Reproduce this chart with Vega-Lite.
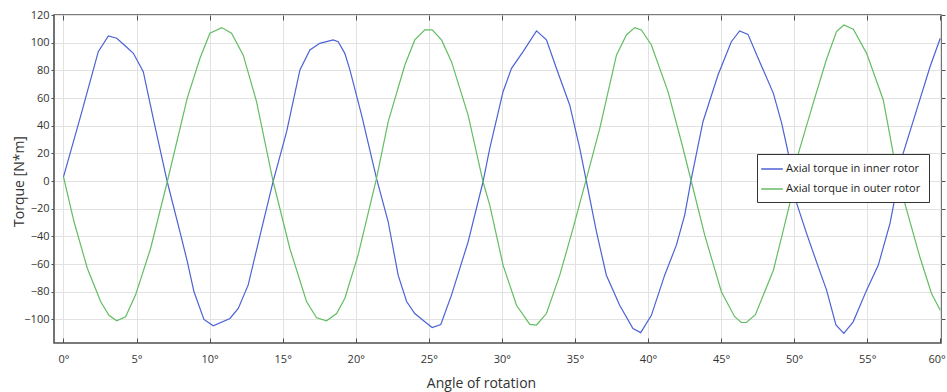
{
  "$schema": "https://vega.github.io/schema/vega-lite/v6.json",
  "width": 887,
  "height": 328,
  "autosize": {"type": "none"},
  "padding": {"left": 54, "top": 15, "right": 6, "bottom": 49},
  "background": "white",
  "config": {
    "font": "Open Sans",
    "view": {"stroke": "#505050", "strokeWidth": 1.6},
    "axis": {"labelFont": "Open Sans", "titleFont": "Open Sans", "labelColor": "#333", "titleColor": "#333", "titleFontWeight": "normal", "labelFontSize": 11, "tickColor": "#505050"}
  },
  "data": {"values": [
    {"angle": 0, "torque": 3, "series": "Axial torque in inner rotor"},
    {"angle": 1.2, "torque": 48, "series": "Axial torque in inner rotor"},
    {"angle": 2.38, "torque": 93.5, "series": "Axial torque in inner rotor"},
    {"angle": 3.07, "torque": 104.8, "series": "Axial torque in inner rotor"},
    {"angle": 3.64, "torque": 103.2, "series": "Axial torque in inner rotor"},
    {"angle": 4.2, "torque": 98, "series": "Axial torque in inner rotor"},
    {"angle": 4.78, "torque": 92.3, "series": "Axial torque in inner rotor"},
    {"angle": 5.46, "torque": 79, "series": "Axial torque in inner rotor"},
    {"angle": 6.19, "torque": 43, "series": "Axial torque in inner rotor"},
    {"angle": 7.1, "torque": -0.5, "series": "Axial torque in inner rotor"},
    {"angle": 8.0, "torque": -38, "series": "Axial torque in inner rotor"},
    {"angle": 8.47, "torque": -58, "series": "Axial torque in inner rotor"},
    {"angle": 8.93, "torque": -80, "series": "Axial torque in inner rotor"},
    {"angle": 9.61, "torque": -100, "series": "Axial torque in inner rotor"},
    {"angle": 10.25, "torque": -104.6, "series": "Axial torque in inner rotor"},
    {"angle": 11.39, "torque": -99.3, "series": "Axial torque in inner rotor"},
    {"angle": 11.96, "torque": -92, "series": "Axial torque in inner rotor"},
    {"angle": 12.64, "torque": -75, "series": "Axial torque in inner rotor"},
    {"angle": 13.5, "torque": -37, "series": "Axial torque in inner rotor"},
    {"angle": 14.35, "torque": 0, "series": "Axial torque in inner rotor"},
    {"angle": 15.27, "torque": 35.7, "series": "Axial torque in inner rotor"},
    {"angle": 16.18, "torque": 80.3, "series": "Axial torque in inner rotor"},
    {"angle": 16.86, "torque": 94.7, "series": "Axial torque in inner rotor"},
    {"angle": 17.54, "torque": 99.5, "series": "Axial torque in inner rotor"},
    {"angle": 18.45, "torque": 102, "series": "Axial torque in inner rotor"},
    {"angle": 18.8, "torque": 100.7, "series": "Axial torque in inner rotor"},
    {"angle": 19.25, "torque": 92.3, "series": "Axial torque in inner rotor"},
    {"angle": 19.6, "torque": 80.3, "series": "Axial torque in inner rotor"},
    {"angle": 20.4, "torque": 47.7, "series": "Axial torque in inner rotor"},
    {"angle": 21.42, "torque": 2, "series": "Axial torque in inner rotor"},
    {"angle": 22.22, "torque": -29.4, "series": "Axial torque in inner rotor"},
    {"angle": 22.9, "torque": -68, "series": "Axial torque in inner rotor"},
    {"angle": 23.48, "torque": -87, "series": "Axial torque in inner rotor"},
    {"angle": 24.04, "torque": -95.7, "series": "Axial torque in inner rotor"},
    {"angle": 24.73, "torque": -101.7, "series": "Axial torque in inner rotor"},
    {"angle": 25.23, "torque": -105.8, "series": "Axial torque in inner rotor"},
    {"angle": 25.82, "torque": -103.6, "series": "Axial torque in inner rotor"},
    {"angle": 26.55, "torque": -82.4, "series": "Axial torque in inner rotor"},
    {"angle": 27.69, "torque": -43.9, "series": "Axial torque in inner rotor"},
    {"angle": 28.71, "torque": -0.5, "series": "Axial torque in inner rotor"},
    {"angle": 29.17, "torque": 23.6, "series": "Axial torque in inner rotor"},
    {"angle": 30.08, "torque": 64.6, "series": "Axial torque in inner rotor"},
    {"angle": 30.66, "torque": 81.5, "series": "Axial torque in inner rotor"},
    {"angle": 31.45, "torque": 93.5, "series": "Axial torque in inner rotor"},
    {"angle": 32.37, "torque": 108.5, "series": "Axial torque in inner rotor"},
    {"angle": 33.05, "torque": 102, "series": "Axial torque in inner rotor"},
    {"angle": 33.73, "torque": 81.5, "series": "Axial torque in inner rotor"},
    {"angle": 34.64, "torque": 55, "series": "Axial torque in inner rotor"},
    {"angle": 35.33, "torque": 23.6, "series": "Axial torque in inner rotor"},
    {"angle": 35.79, "torque": -0.5, "series": "Axial torque in inner rotor"},
    {"angle": 36.47, "torque": -36.6, "series": "Axial torque in inner rotor"},
    {"angle": 37.15, "torque": -68, "series": "Axial torque in inner rotor"},
    {"angle": 38.06, "torque": -89.7, "series": "Axial torque in inner rotor"},
    {"angle": 38.97, "torque": -106.5, "series": "Axial torque in inner rotor"},
    {"angle": 39.5, "torque": -109.5, "series": "Axial torque in inner rotor"},
    {"angle": 40.23, "torque": -97, "series": "Axial torque in inner rotor"},
    {"angle": 41.14, "torque": -68, "series": "Axial torque in inner rotor"},
    {"angle": 41.94, "torque": -46.3, "series": "Axial torque in inner rotor"},
    {"angle": 42.51, "torque": -24.6, "series": "Axial torque in inner rotor"},
    {"angle": 42.97, "torque": 2, "series": "Axial torque in inner rotor"},
    {"angle": 43.76, "torque": 42.9, "series": "Axial torque in inner rotor"},
    {"angle": 44.79, "torque": 76.6, "series": "Axial torque in inner rotor"},
    {"angle": 45.7, "torque": 100.7, "series": "Axial torque in inner rotor"},
    {"angle": 46.27, "torque": 108.5, "series": "Axial torque in inner rotor"},
    {"angle": 46.84, "torque": 106, "series": "Axial torque in inner rotor"},
    {"angle": 47.64, "torque": 86.3, "series": "Axial torque in inner rotor"},
    {"angle": 48.58, "torque": 63.4, "series": "Axial torque in inner rotor"},
    {"angle": 49.15, "torque": 41.7, "series": "Axial torque in inner rotor"},
    {"angle": 49.6, "torque": 20, "series": "Axial torque in inner rotor"},
    {"angle": 50.17, "torque": -16, "series": "Axial torque in inner rotor"},
    {"angle": 50.85, "torque": -37.8, "series": "Axial torque in inner rotor"},
    {"angle": 51.65, "torque": -62, "series": "Axial torque in inner rotor"},
    {"angle": 52.22, "torque": -78.8, "series": "Axial torque in inner rotor"},
    {"angle": 52.86, "torque": -104, "series": "Axial torque in inner rotor"},
    {"angle": 53.4, "torque": -110, "series": "Axial torque in inner rotor"},
    {"angle": 54.04, "torque": -101.7, "series": "Axial torque in inner rotor"},
    {"angle": 54.96, "torque": -78.8, "series": "Axial torque in inner rotor"},
    {"angle": 55.76, "torque": -60.7, "series": "Axial torque in inner rotor"},
    {"angle": 56.56, "torque": -30.6, "series": "Axial torque in inner rotor"},
    {"angle": 57.0, "torque": -6.5, "series": "Axial torque in inner rotor"},
    {"angle": 57.46, "torque": 20, "series": "Axial torque in inner rotor"},
    {"angle": 58.38, "torque": 51.3, "series": "Axial torque in inner rotor"},
    {"angle": 59.3, "torque": 82.6, "series": "Axial torque in inner rotor"},
    {"angle": 60, "torque": 103.2, "series": "Axial torque in inner rotor"},

    {"angle": 0, "torque": 3, "series": "Axial torque in outer rotor"},
    {"angle": 0.72, "torque": -29.4, "series": "Axial torque in outer rotor"},
    {"angle": 1.63, "torque": -63, "series": "Axial torque in outer rotor"},
    {"angle": 2.54, "torque": -87, "series": "Axial torque in outer rotor"},
    {"angle": 3.11, "torque": -97, "series": "Axial torque in outer rotor"},
    {"angle": 3.64, "torque": -101, "series": "Axial torque in outer rotor"},
    {"angle": 4.25, "torque": -98, "series": "Axial torque in outer rotor"},
    {"angle": 4.94, "torque": -82, "series": "Axial torque in outer rotor"},
    {"angle": 5.96, "torque": -48.7, "series": "Axial torque in outer rotor"},
    {"angle": 7.1, "torque": -0.5, "series": "Axial torque in outer rotor"},
    {"angle": 8.47, "torque": 60, "series": "Axial torque in outer rotor"},
    {"angle": 9.34, "torque": 88.7, "series": "Axial torque in outer rotor"},
    {"angle": 10.02, "torque": 106.8, "series": "Axial torque in outer rotor"},
    {"angle": 10.82, "torque": 110.9, "series": "Axial torque in outer rotor"},
    {"angle": 11.5, "torque": 106.8, "series": "Axial torque in outer rotor"},
    {"angle": 12.3, "torque": 91, "series": "Axial torque in outer rotor"},
    {"angle": 13.21, "torque": 57.4, "series": "Axial torque in outer rotor"},
    {"angle": 14.35, "torque": -0.5, "series": "Axial torque in outer rotor"},
    {"angle": 15.49, "torque": -48.7, "series": "Axial torque in outer rotor"},
    {"angle": 16.63, "torque": -87, "series": "Axial torque in outer rotor"},
    {"angle": 17.32, "torque": -98.8, "series": "Axial torque in outer rotor"},
    {"angle": 18.0, "torque": -101, "series": "Axial torque in outer rotor"},
    {"angle": 18.69, "torque": -95.7, "series": "Axial torque in outer rotor"},
    {"angle": 19.25, "torque": -84.8, "series": "Axial torque in outer rotor"},
    {"angle": 20.16, "torque": -53.5, "series": "Axial torque in outer rotor"},
    {"angle": 21.42, "torque": 2, "series": "Axial torque in outer rotor"},
    {"angle": 22.22, "torque": 42.9, "series": "Axial torque in outer rotor"},
    {"angle": 23.36, "torque": 83.9, "series": "Axial torque in outer rotor"},
    {"angle": 24.04, "torque": 102, "series": "Axial torque in outer rotor"},
    {"angle": 24.73, "torque": 109.2, "series": "Axial torque in outer rotor"},
    {"angle": 25.23, "torque": 109.2, "series": "Axial torque in outer rotor"},
    {"angle": 25.87, "torque": 102, "series": "Axial torque in outer rotor"},
    {"angle": 26.55, "torque": 86.3, "series": "Axial torque in outer rotor"},
    {"angle": 27.69, "torque": 47.7, "series": "Axial torque in outer rotor"},
    {"angle": 28.71, "torque": -0.5, "series": "Axial torque in outer rotor"},
    {"angle": 29.17, "torque": -17.4, "series": "Axial torque in outer rotor"},
    {"angle": 30.08, "torque": -60.7, "series": "Axial torque in outer rotor"},
    {"angle": 31.0, "torque": -89.7, "series": "Axial torque in outer rotor"},
    {"angle": 31.91, "torque": -103.6, "series": "Axial torque in outer rotor"},
    {"angle": 32.37, "torque": -104, "series": "Axial torque in outer rotor"},
    {"angle": 33.05, "torque": -95.7, "series": "Axial torque in outer rotor"},
    {"angle": 33.96, "torque": -68, "series": "Axial torque in outer rotor"},
    {"angle": 34.87, "torque": -34.2, "series": "Axial torque in outer rotor"},
    {"angle": 35.79, "torque": 2, "series": "Axial torque in outer rotor"},
    {"angle": 36.7, "torque": 38.1, "series": "Axial torque in outer rotor"},
    {"angle": 37.84, "torque": 91, "series": "Axial torque in outer rotor"},
    {"angle": 38.52, "torque": 105.6, "series": "Axial torque in outer rotor"},
    {"angle": 39.09, "torque": 110.9, "series": "Axial torque in outer rotor"},
    {"angle": 39.55, "torque": 109.2, "series": "Axial torque in outer rotor"},
    {"angle": 40.23, "torque": 98.3, "series": "Axial torque in outer rotor"},
    {"angle": 41.37, "torque": 64.6, "series": "Axial torque in outer rotor"},
    {"angle": 42.28, "torque": 28.4, "series": "Axial torque in outer rotor"},
    {"angle": 42.97, "torque": -0.5, "series": "Axial torque in outer rotor"},
    {"angle": 43.88, "torque": -39, "series": "Axial torque in outer rotor"},
    {"angle": 45.02, "torque": -80, "series": "Axial torque in outer rotor"},
    {"angle": 45.93, "torque": -98, "series": "Axial torque in outer rotor"},
    {"angle": 46.39, "torque": -102.2, "series": "Axial torque in outer rotor"},
    {"angle": 46.73, "torque": -102.2, "series": "Axial torque in outer rotor"},
    {"angle": 47.35, "torque": -96.5, "series": "Axial torque in outer rotor"},
    {"angle": 48.58, "torque": -64.4, "series": "Axial torque in outer rotor"},
    {"angle": 49.26, "torque": -35.4, "series": "Axial torque in outer rotor"},
    {"angle": 49.71, "torque": -16, "series": "Axial torque in outer rotor"},
    {"angle": 50.29, "torque": 20, "series": "Axial torque in outer rotor"},
    {"angle": 51.3, "torque": 56.2, "series": "Axial torque in outer rotor"},
    {"angle": 52.2, "torque": 87.5, "series": "Axial torque in outer rotor"},
    {"angle": 52.9, "torque": 108, "series": "Axial torque in outer rotor"},
    {"angle": 53.4, "torque": 112.8, "series": "Axial torque in outer rotor"},
    {"angle": 54.05, "torque": 109.7, "series": "Axial torque in outer rotor"},
    {"angle": 54.96, "torque": 92.3, "series": "Axial torque in outer rotor"},
    {"angle": 56.1, "torque": 58.6, "series": "Axial torque in outer rotor"},
    {"angle": 56.78, "torque": 20, "series": "Axial torque in outer rotor"},
    {"angle": 57.57, "torque": -16, "series": "Axial torque in outer rotor"},
    {"angle": 58.6, "torque": -54.7, "series": "Axial torque in outer rotor"},
    {"angle": 59.4, "torque": -81.2, "series": "Axial torque in outer rotor"},
    {"angle": 60, "torque": -93.3, "series": "Axial torque in outer rotor"}
  ]},
  "resolve": {"axis": {"x": "independent", "y": "independent"}},
  "layer": [
    {
      "mark": {"type": "line", "strokeWidth": 1.2, "clip": true},
      "encoding": {
        "x": {
          "field": "angle", "type": "quantitative",
          "scale": {"domain": [-0.65, 60.05], "nice": false, "zero": false},
          "axis": {
            "orient": "bottom", "values": [0, 5, 10, 15, 20, 25, 30, 35, 40, 45, 50, 55, 60],
            "labelExpr": "datum.value + '°'", "labelFlush": true, "labelFlushOffset": 5, "grid": true, "gridColor": "#e2e2e2",
            "domain": false, "tickSize": -5, "labelPadding": 15,
            "title": "Angle of rotation", "titleFontSize": 14,
            "titleX": 427, "titleY": 44, "titleBaseline": "alphabetic"
          }
        },
        "y": {
          "field": "torque", "type": "quantitative",
          "scale": {"domain": [-117, 120], "nice": false, "zero": false},
          "axis": {
            "orient": "left", "values": [-100, -80, -60, -40, -20, 0, 20, 40, 60, 80, 100, 120],
            "grid": true, "gridColor": "#e2e2e2", "domain": false, "labelFlush": false,
            "tickSize": 3, "labelPadding": 2,
            "title": "Torque [N*m]", "titleFontSize": 14,
            "titleX": -35, "titleY": 166, "titleBaseline": "middle", "titleAngle": -90
          }
        },
        "color": {
          "field": "series", "type": "nominal",
          "scale": {"domain": ["Axial torque in inner rotor", "Axial torque in outer rotor"], "range": ["#4c62d4", "#63bd63"]},
          "legend": {
            "orient": "none", "legendX": 703, "legendY": 139, "title": null,
            "fillColor": "white", "strokeColor": "#333", "padding": 8,
            "symbolType": "M-1.8,0H1.8", "symbolSize": 144, "symbolStrokeWidth": 1.5,
            "labelFontSize": 11, "labelColor": "#222", "labelFont": "Open Sans",
            "labelOffset": 7, "rowPadding": 8
          }
        }
      }
    },
    {
      "mark": {"type": "line", "opacity": 0},
      "encoding": {
        "x": {
          "field": "angle", "type": "quantitative",
          "axis": {"orient": "top", "values": [0, 5, 10, 15, 20, 25, 30, 35, 40, 45, 50, 55, 60], "labels": false, "grid": false, "domain": false, "tickSize": -5, "title": null}
        },
        "y": {
          "field": "torque", "type": "quantitative",
          "axis": {"orient": "right", "values": [-100, -80, -60, -40, -20, 0, 20, 40, 60, 80, 100, 120], "labels": false, "grid": false, "domain": false, "tickSize": 4, "title": null}
        },
        "detail": {"field": "series"}
      }
    }
  ]
}
